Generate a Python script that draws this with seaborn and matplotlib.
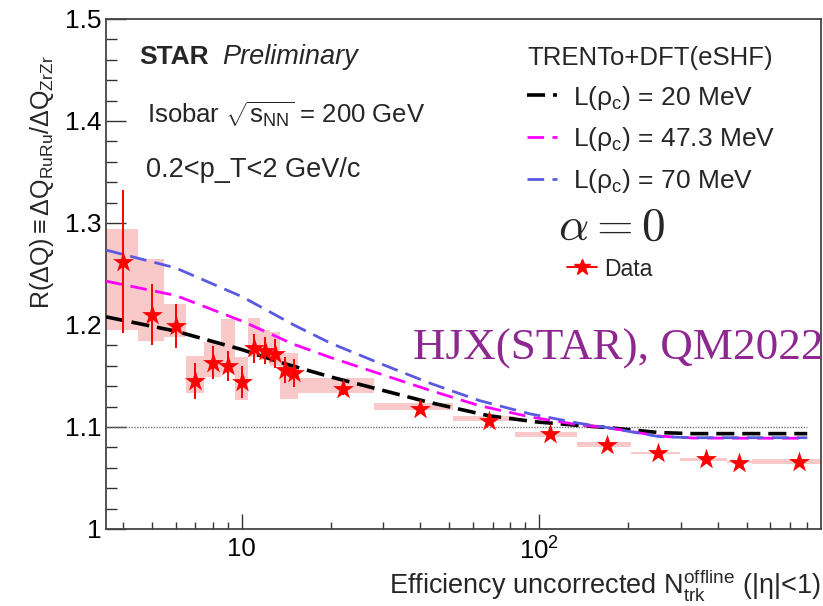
import numpy as np
import pandas as pd
import matplotlib
matplotlib.use("Agg")
import matplotlib.pyplot as plt
import seaborn as sns
from matplotlib.lines import Line2D
from matplotlib.ticker import (FixedLocator, FixedFormatter, LogLocator,
                               MultipleLocator, FuncFormatter, NullFormatter)

# ---- measured ratio R(dQ) vs. multiplicity --------------------------------
n_trk = [4, 5, 6, 7, 8, 9, 10, 11, 12, 13, 14, 15, 22, 40, 68, 109, 169, 251, 364, 471, 750]
ratio = [1.262, 1.210, 1.199, 1.145, 1.163, 1.160, 1.144, 1.177, 1.175, 1.172, 1.156, 1.153,
         1.137, 1.118, 1.106, 1.093, 1.082, 1.075, 1.069, 1.065, 1.066]
stat_err = [0.070, 0.030, 0.022, 0.018, 0.016, 0.015, 0.016, 0.014, 0.013, 0.014, 0.013, 0.014,
            0.006, 0.004, 0.003, 0.003, 0.002, 0.002, 0.002, 0.002, 0.002]
# systematic band: multiplicity bin edges and ratio range
bin_lo = [3.5, 4.5, 5.5, 6.5, 7.5, 8.5, 9.5, 10.5, 11.5, 12.5, 13.5, 14.5,
          15.5, 28.0, 51.5, 83.0, 134.0, 204.0, 298.0, 430.0, 521.0]
bin_hi = [4.5, 5.5, 6.5, 7.5, 8.5, 9.5, 10.5, 11.5, 12.5, 13.5, 14.5, 15.5,
          28.0, 51.5, 83.0, 134.0, 204.0, 298.0, 430.0, 521.0, 890.0]
sys_lo = [1.195, 1.184, 1.188, 1.133, 1.149, 1.153, 1.126, 1.169, 1.166, 1.160, 1.127, 1.127,
          1.133, 1.117, 1.106, 1.0905, 1.080, 1.0735, 1.067, 1.065, 1.064]
sys_hi = [1.294, 1.265, 1.221, 1.170, 1.183, 1.206, 1.169, 1.207, 1.195, 1.193, 1.173, 1.173,
          1.148, 1.124, 1.111, 1.0955, 1.085, 1.0758, 1.0695, 1.067, 1.069]

# ---- TRENTo+DFT(eSHF) model curves ----------------------------------------
model_labels = ["20", "47.3", "70"]
x_20 = [3.5, 6, 10, 14, 20, 28, 43, 68, 98, 137, 169, 255, 330, 500, 800]
y_20 = [1.208, 1.194, 1.176, 1.162, 1.149, 1.138, 1.124, 1.111, 1.105, 1.1015, 1.0995,
        1.0945, 1.0935, 1.0935, 1.0935]
x_47 = [3.5, 6, 10, 15, 20, 30, 43, 63, 93, 137, 169, 255, 330, 500, 800]
y_47 = [1.243, 1.229, 1.204, 1.181, 1.168, 1.151, 1.136, 1.121, 1.110, 1.102, 1.0995,
        1.091, 1.0892, 1.089, 1.089]
x_70 = [3.5, 6, 10, 15, 20, 30, 43, 63, 93, 137, 169, 255, 330, 500, 800]
y_70 = [1.2735, 1.256, 1.228, 1.200, 1.182, 1.161, 1.143, 1.126, 1.113, 1.1036, 1.0995,
        1.0905, 1.0895, 1.0895, 1.0895]
ref_level = 1.1

sns.set_theme(style="ticks")
plt.rcParams["font.family"] = ["Liberation Sans", "DejaVu Sans"]
plt.rcParams["mathtext.fontset"] = "custom"
plt.rcParams["mathtext.rm"] = "Liberation Sans"
plt.rcParams["mathtext.it"] = "Liberation Sans:italic"
plt.rcParams["mathtext.bf"] = "Liberation Sans:bold"

W, H = 823, 606
fig = plt.figure(figsize=(W / 100, H / 100), dpi=100)
fig.patch.set_facecolor("white")


def fx(p):
    return p / W


def fy(p):
    return 1 - p / H


ax = fig.add_axes([fx(106), fy(529), fx(821) - fx(106), fy(19) - fy(529)])
ax.set_facecolor("white")
ax.set_xscale("log")

# systematic boxes
sys_df = pd.DataFrame({"lo": bin_lo, "hi": bin_hi, "slo": sys_lo, "shi": sys_hi})
ax.bar(sys_df["lo"], sys_df["shi"] - sys_df["slo"], width=sys_df["hi"] - sys_df["lo"],
       bottom=sys_df["slo"], align="edge", color="#f9c8c8", linewidth=0, zorder=1)

# reference line
ax.hlines(ref_level, x_20[0], x_20[-1], colors="#777777", linestyles=(0, (1, 1)),
          linewidth=1.0, zorder=2)

# model curves
curves = [(x_20, y_20, "black", 2.6, (0, (5, 2.2))),
          (x_47, y_47, "#ff00ff", 2.0, (0, (6, 3))),
          (x_70, y_70, "#5a5ae0", 2.0, (0, (6, 3)))]
for xs, ys, col, lw, ls in curves:
    sns.lineplot(x=xs, y=ys, color=col, linewidth=lw, linestyle=ls, sort=False,
                 estimator=None, ax=ax, zorder=3)

# data with statistical errors
ax.errorbar(n_trk, ratio, yerr=stat_err, fmt="none", ecolor="red", elinewidth=1.4,
            capsize=0, zorder=4)
sns.scatterplot(x=n_trk, y=ratio, marker="*", s=250, color="red", linewidth=0,
                ax=ax, zorder=5)

ax.set_xlim(3.5, 890)
ax.set_ylim(1.0, 1.5)

ax.xaxis.set_major_locator(FixedLocator([10, 100]))
ax.xaxis.set_major_formatter(FixedFormatter(["10", r"$10^{2}$"]))
ax.xaxis.set_minor_locator(LogLocator(base=10, subs=np.arange(2, 10)))
ax.xaxis.set_minor_formatter(NullFormatter())
ax.yaxis.set_major_locator(MultipleLocator(0.1))
ax.yaxis.set_minor_locator(MultipleLocator(0.02))
ax.yaxis.set_major_formatter(FuncFormatter(lambda v, _: f"{v:g}"))

ax.tick_params(axis="both", which="both", direction="in", top=False, right=False,
               color="#333333", width=1.0, labelcolor="black")
ax.tick_params(axis="y", which="major", length=14.4, labelsize=19, pad=3)
ax.tick_params(axis="y", which="minor", length=7.9)
ax.tick_params(axis="x", which="major", length=10.8, labelsize=18.5, pad=6)
ax.tick_params(axis="x", which="minor", length=5.3)
for sp in ax.spines.values():
    sp.set_visible(True)
    sp.set_color("#444444")
    sp.set_linewidth(1.3)

ax.set_xlabel("")
ax.set_ylabel("")

# axis titles
fig.text(fx(42), fy(55), r"R($\Delta$Q)$\equiv\Delta$Q$_{\mathrm{RuRu}}$/$\Delta$Q$_{\mathrm{ZrZr}}$",
         rotation=90, ha="center", va="top", fontsize=18)
fig.text(fx(821), fy(585),
         r"Efficiency uncorrected N$_{\mathrm{trk}}^{\mathrm{offline}}$ (|η|<1)",
         ha="right", va="center", fontsize=19.5)

# annotations
fig.text(fx(139), fy(57), "STAR", fontweight="bold", ha="left", va="center", fontsize=19)
fig.text(fx(222), fy(57), "Preliminary", style="italic", ha="left", va="center", fontsize=19.5)
fig.text(fx(147), fy(115), r"Isobar $\sqrt{\mathrm{s}_{\mathrm{NN}}}$ = 200 GeV",
         ha="left", va="center", fontsize=18.5)
fig.text(fx(146), fy(170), "0.2<p_T<2 GeV/c", ha="left", va="center", fontsize=19.5)
fig.text(fx(558), fy(228), r"$\alpha = 0$", math_fontfamily="cm", ha="left", va="center",
         fontsize=34)
fig.text(fx(413), fy(349), "HJX(STAR), QM2022", family=["Liberation Serif", "DejaVu Serif"],
         color="#8e278f", ha="left", va="center", fontsize=32.5)

# legends
model_handles = [Line2D([], [], color=c, linewidth=lw, linestyle=ls) for _, _, c, lw, ls in curves]
model_texts = [f"L(ρ$_{{\\mathrm{{c}}}}$) = {v} MeV" for v in model_labels]
leg1 = ax.legend(model_handles, model_texts, title="TRENTo+DFT(eSHF)", frameon=False,
                 loc="upper left", bbox_to_anchor=(fx(527), fy(46)),
                 bbox_transform=fig.transFigure, fontsize=19, title_fontsize=18.5,
                 handlelength=1.15, handletextpad=0.6, labelspacing=0.52,
                 alignment="left", borderaxespad=0, borderpad=0)
ax.add_artist(leg1)
data_handle = Line2D([], [], color="red", marker="*", markersize=12, linewidth=1.4)
ax.legend([data_handle], ["Data"], frameon=False, loc="center left",
          bbox_to_anchor=(fx(567), fy(269)), bbox_transform=fig.transFigure,
          fontsize=16.5, handlelength=1.3, handletextpad=0.3, borderaxespad=0, borderpad=0)

fig.savefig("out.png", dpi=100, facecolor="white")
